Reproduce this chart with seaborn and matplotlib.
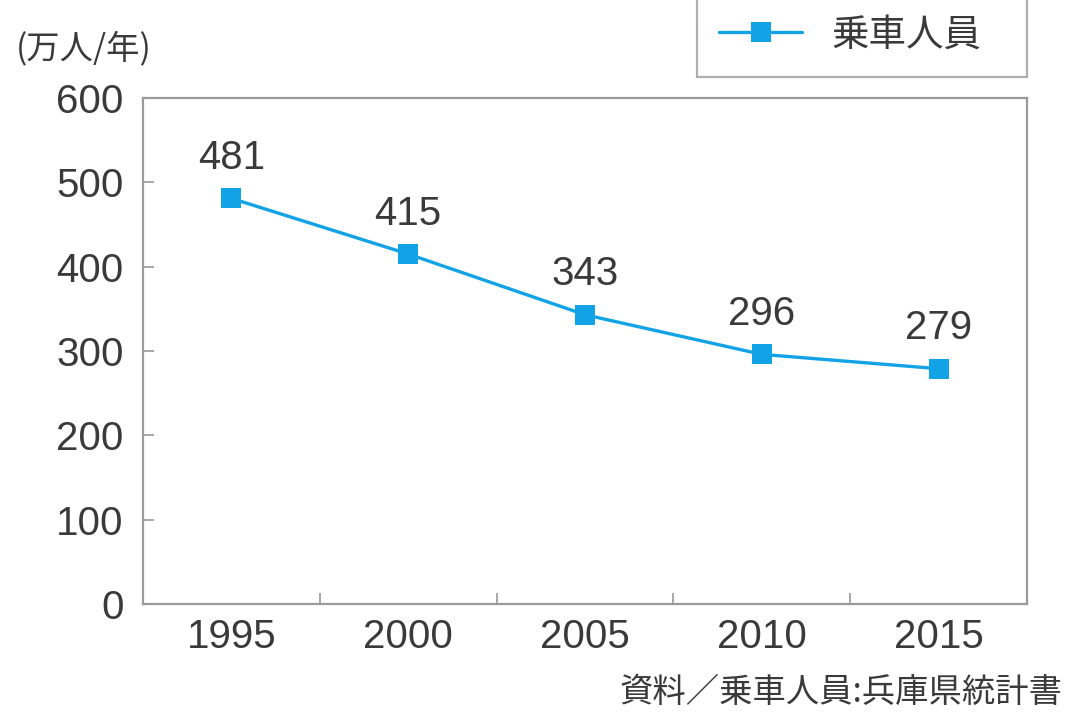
import matplotlib
matplotlib.use("Agg")
import matplotlib.pyplot as plt
import seaborn as sns
import pandas as pd

years = ["1995", "2000", "2005", "2010", "2015"]
passengers = [481, 415, 343, 296, 279]
series_name = "乗車人員"
unit_label = "(万人/年)"
source_text = "資料／乗車人員:兵庫県統計書"
yticks = [0, 100, 200, 300, 400, 500, 600]

sns.set_theme(style="white")
plt.rcParams['font.family'] = ['Liberation Sans', 'Noto Sans CJK JP', 'DejaVu Sans']

LINE = "#12a3e6"
TXT = "#3a3a3a"
SPINE = "#9a9a9a"

fig = plt.figure(figsize=(10.67, 7.18), dpi=100)
ax = fig.add_axes([0.134, 0.1588, 0.8285, 0.7047])

df = pd.DataFrame({"year": years, "value": passengers})
sns.lineplot(data=df, x="year", y="value", ax=ax, color=LINE, linewidth=2.4,
             marker="s", markersize=15, markeredgewidth=0, label=series_name, legend=False)

ax.set_xlim(-0.5, len(years) - 0.5)
ax.set_ylim(0, 600)
ax.set_yticks(yticks)
ax.set_yticklabels([str(v) for v in yticks])
ax.set_xticks(range(len(years)))
ax.set_xticklabels(years)
ax.set_xlabel("")
ax.set_ylabel("")

for s in ax.spines.values():
    s.set_color(SPINE)
    s.set_linewidth(1.6)

ax.tick_params(axis="y", direction="in", length=8, width=1.2, color=SPINE,
               labelsize=29, labelcolor=TXT, pad=14, left=True)
ax.tick_params(axis="x", which="major", length=0, labelsize=29, labelcolor=TXT, pad=10)
ax.set_xticks([i + 0.5 for i in range(len(years) - 1)], minor=True)
ax.tick_params(axis="x", which="minor", direction="in", length=8, width=1.2, color=SPINE, bottom=True)

for i, v in enumerate(passengers):
    ax.annotate(str(v), (i, v), xytext=(0, 29), textcoords="offset points",
                ha="center", va="center", fontsize=29, color=TXT)

fig.text(0.015, 0.932, unit_label, fontsize=24, color=TXT, ha="left", va="center",
         family=['Noto Sans CJK JP', 'DejaVu Sans'])

fig.text(0.996, 0.036, source_text, fontsize=24, color=TXT, ha="right", va="center",
         family=['Noto Sans CJK JP', 'DejaVu Sans'])

handles, labels = ax.get_lines()[:1], [series_name]
leg = fig.legend(handles, labels, loc="lower left", bbox_to_anchor=(0.653, 0.8928, 0.3095, 0.12),
                 mode="expand", frameon=True, fancybox=False, edgecolor=SPINE,
                 prop={'family': ['Noto Sans CJK JP', 'DejaVu Sans'], 'size': 27},
                 labelcolor=TXT, handlelength=2.2, borderpad=0.6, handletextpad=0.8,
                 borderaxespad=0)
leg.get_frame().set_linewidth(1.6)

fig.savefig("out.png", dpi=100)
